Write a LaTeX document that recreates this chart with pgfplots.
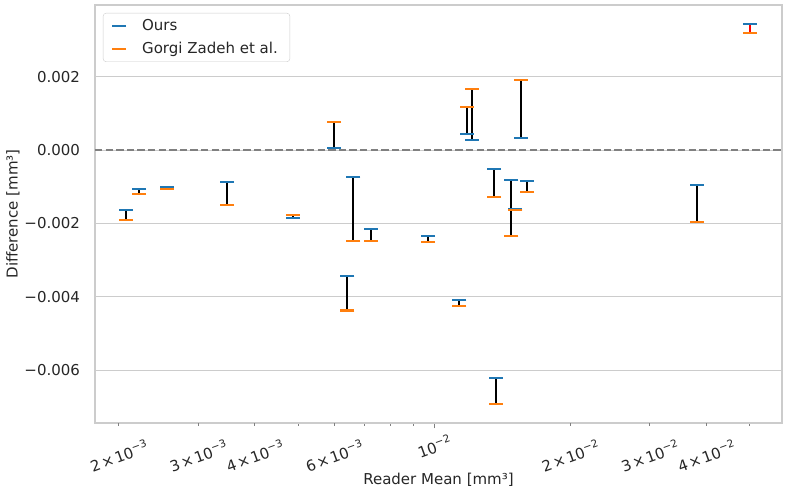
\documentclass[border=0pt]{standalone}
\usepackage{pgfplots}
\pgfplotsset{compat=1.18}
\usepackage{pgfplotstable}
\usepackage{fontspec}
\setmainfont{DejaVu Sans}
\definecolor{cblue}{HTML}{1F77B4}
\definecolor{corange}{HTML}{FF7F0E}
\definecolor{txt}{HTML}{262626}
\definecolor{gridc}{HTML}{CCCCCC}
\newcommand{\sups}[1]{\raisebox{0.42em}{\fontsize{10.5}{12}\selectfont #1}}
\newcommand{\lbl}[2]{#1\hspace{0.12em}×\hspace{0.12em}10\sups{−#2}}

\pgfplotstableread{
x ours gorgi
0.002076 -0.001628 -0.001917
0.002218 -0.001072 -0.001192
0.002559 -0.001001 -0.001055
0.003475 -0.000865 -0.001500
0.004858 -0.001863 -0.001781
0.005996 0.000063 0.000755
0.006416 -0.003428 -0.004377
0.006615 -0.000745 -0.002490
0.007227 -0.002146 -0.002474
0.009684 -0.002345 -0.002517
0.011360 -0.004085 -0.004260
0.011810 0.000445 0.001165
0.012100 0.000273 0.001664
0.013560 -0.000510 -0.001290
0.013680 -0.006210 -0.006919
0.014810 -0.000818 -0.002345
0.015120 -0.001609 -0.001630
0.015540 0.000327 0.001909
0.016040 -0.000845 -0.001137
0.038130 -0.000963 -0.001964
0.049960 0.003428 0.003183
}\data

\begin{document}
\begin{tikzpicture}[x=1pt,y=1pt,font=\fontsize{15}{18}\selectfont]
\begin{axis}[
  at={(0,0)}, anchor=south west,
  scale only axis, width=687pt, height=418pt,
  xmode=log,
  xmin=0.001772, xmax=0.05889,
  ymin=-0.007445, ymax=0.003955,
  axis line style={gridc, line width=1.2pt},
  ytick={-0.006,-0.004,-0.002,0,0.002},
  yticklabels={−0.006,−0.004,−0.002,0.000,0.002},
  ymajorgrids, xmajorgrids=false, xminorgrids=false,
  grid style={gridc, line width=1pt},
  ytick style={draw=none},
  xtick={0.01}, xticklabels={10\sups{−2}},
  minor xtick={0.002,0.003,0.004,0.005,0.006,0.007,0.008,0.009,0.02,0.03,0.04,0.05},
  extra x ticks={0.002,0.003,0.004,0.006,0.02,0.03,0.04},
  extra x tick labels={\lbl{2}{3},\lbl{3}{3},\lbl{4}{3},\lbl{6}{3},\lbl{2}{2},\lbl{3}{2},\lbl{4}{2}},
  extra x tick style={major tick length=2.8pt, grid=none,
     xticklabel style={yshift=-11pt, xshift=-3.9pt}},
  tick align=outside, xtick pos=bottom, ytick pos=left,
  major tick length=5.5pt, minor tick length=2.8pt,
  xtick style={black!50, line width=0.9pt},
  xticklabel style={yshift=-18pt, rotate=20, anchor=center, text=txt},
  y tick label style={anchor=east, xshift=-6pt, text=txt},
  xlabel={Reader Mean [mm³]},
  ylabel={Difference [mm³]},
  xlabel style={at={(axis description cs:0.5,0)}, anchor=center, yshift=-57pt, text=txt},
  ylabel style={at={(axis description cs:0,0.5)}, anchor=center, yshift=82pt, text=txt},
  legend style={at={(0.01164,0.98086)}, anchor=north west,
    draw=gridc, rounded corners=3pt, fill=white, text=txt,
    font=\fontsize{15}{18}\selectfont, cells={anchor=west},
    inner xsep=9pt, inner ysep=3.5pt, row sep=4pt,
    nodes={inner sep=3pt},
    /tikz/every odd column/.append style={column sep=13pt}},
]
\addplot[forget plot, black!50, line width=2pt, dash pattern=on 7.4pt off 3.2pt]
  coordinates {(0.001772,0) (0.05889,0)};
\addplot[forget plot, draw=none, mark=none,
  skip coords between index={20}{21},
  error bars/.cd, y dir=plus, y explicit, error mark=none,
  error bar style={draw=black, line width=2pt}]
  table[x=x, y=ours, y error expr=\thisrow{gorgi}-\thisrow{ours}] {\data};
\addplot[forget plot, draw=none, mark=none,
  skip coords between index={0}{20},
  error bars/.cd, y dir=plus, y explicit, error mark=none,
  error bar style={draw=red, line width=2pt}]
  table[x=x, y=ours, y error expr=\thisrow{gorgi}-\thisrow{ours}] {\data};
\addplot[only marks, mark=-, mark size=7pt, cblue, mark options={line width=2.3pt, cblue}]
  table[x=x, y=ours] {\data};
\addlegendentry{Ours}
\addplot[only marks, mark=-, mark size=7pt, corange, mark options={line width=2.3pt, corange}]
  table[x=x, y=gorgi] {\data};
\addlegendentry{Gorgi Zadeh et al.}
\end{axis}
\pgfresetboundingbox
\path (-95,-71) rectangle (691,423);
\end{tikzpicture}
\end{document}
